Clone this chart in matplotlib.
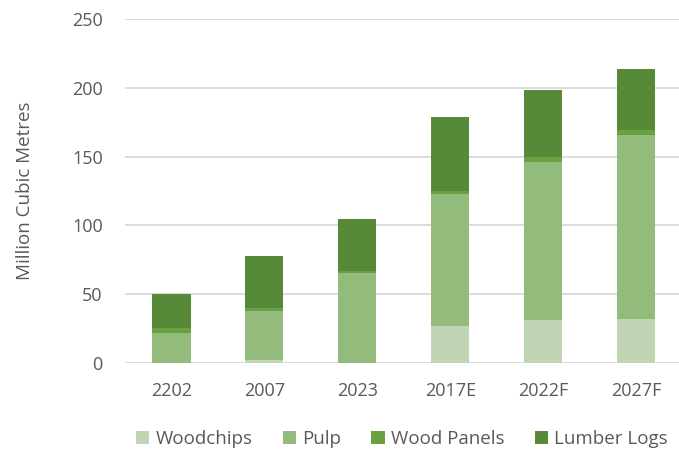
import matplotlib.pyplot as plt
import numpy as np

years = ['2202', '2007', '2023', '2017E', '2022F', '2027F']
woodchips = [0.3, 2, 0.3, 27, 31, 32]
pulp = [21.5, 36, 65, 96, 115, 134]
wood_panels = [3.5, 2, 1.5, 2, 3.5, 3]
lumber_logs = [24.5, 38, 37.5, 54, 49, 45]

series = [
    ('Woodchips', woodchips, '#BFD5B3'),
    ('Pulp', pulp, '#93BB7C'),
    ('Wood Panels', wood_panels, '#69A042'),
    ('Lumber Logs', lumber_logs, '#578A38'),
]

plt.rcParams['font.family'] = ['Open Sans', 'DejaVu Sans']
text_color = '#595959'

fig = plt.figure(figsize=(6.79, 4.49), dpi=100)
ax = fig.add_axes([125 / 679, 86 / 449, 1 - 125 / 679, (430 - 86) / 449])

x = np.arange(len(years))
bottom = np.zeros(len(years))
for name, vals, color in series:
    ax.bar(x, vals, 0.41, bottom=bottom, color=color, label=name, zorder=3)
    bottom += np.array(vals)

ax.set_ylim(0, 250)
ax.set_xlim(-0.5, 5.46)
ax.set_yticks(range(0, 251, 50))
ax.set_xticks(x)
ax.set_xticklabels(years)
ax.yaxis.grid(True, color='#D9D9D9', linewidth=1.3, zorder=0)
ax.set_axisbelow(True)
for s in ax.spines.values():
    s.set_visible(False)
ax.tick_params(axis='both', length=0, labelsize=13, colors=text_color)
ax.tick_params(axis='y', pad=16)
ax.tick_params(axis='x', pad=14)
ax.set_ylabel('Million Cubic Metres', fontsize=13.5, color=text_color, va='center')
ax.yaxis.set_label_coords(-0.181, 0.5)

ax.legend(loc='center', bbox_to_anchor=(0.5, -0.22), ncol=4, frameon=False,
          fontsize=13.5, labelcolor=text_color, handlelength=0.7, handleheight=0.7,
          handletextpad=0.35, columnspacing=1.6)

fig.savefig('out.png', dpi=100)
